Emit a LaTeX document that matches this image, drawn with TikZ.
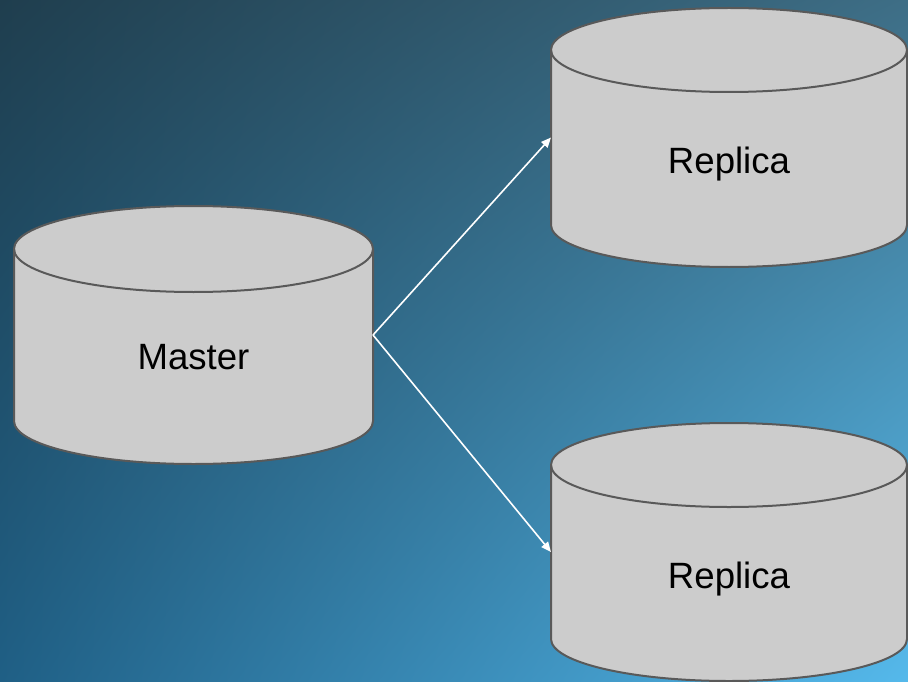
\documentclass[tikz,border=0pt]{standalone}
\usepackage{fontspec}
\setmainfont{Liberation Sans}
\usetikzlibrary{arrows.meta}
\definecolor{canfill}{RGB}{204,204,204}
\definecolor{canline}{RGB}{89,89,89}
% slide background: blend of the four corner colours
\pgfdeclarefunctionalshading{slidebg}{\pgfpoint{0bp}{0bp}}{\pgfpoint{100bp}{100bp}}{}{
  25 sub 50 div exch 25 sub 50 div exch
  1 index -0.090 mul 0 add 1 index mul 2 index 0.211 mul add 0.122 add 3 1 roll
  1 index -0.164 mul -0.130 add 1 index mul 2 index 0.352 mul add 0.373 add 3 1 roll
  1 index -0.181 mul -0.216 add 1 index mul 2 index 0.400 mul add 0.522 add 3 1 roll
  pop pop
}

\begin{document}
\begin{tikzpicture}[x=0.5pt, y=0.5pt,
  can/.style={fill=canfill, draw=canline, line width=1pt},
  rim/.style={draw=canline, line width=1pt},
  dbtext/.style={font=\fontsize{18.3}{22}\selectfont, text=black},
  link/.style={draw=white, line width=0.8pt, -{Triangle[length=5pt,width=4.2pt]}}]
\useasboundingbox (0,0) rectangle (908,681);
\shade [shading=slidebg] (0,0) rectangle (908,681);
% master can
\draw [can] (14,432) -- (14,260) arc (180:360:179.5 and 43) -- (373,432) arc (0:180:179.5 and 43) -- cycle;
\draw [rim] (14,432) arc (180:360:179.5 and 43);
\node [dbtext] (master) at (193.5,324) {Master};
% replica cans
\draw [can] (551,631) -- (551,456) arc (180:360:178 and 42) -- (907,631) arc (0:180:178 and 42) -- cycle;
\draw [rim] (551,631) arc (180:360:178 and 42);
\node [dbtext] (replica1) at (729,517) {Replica};
\draw [can] (551,216) -- (551,42) arc (180:360:178 and 42) -- (907,216) arc (0:180:178 and 42) -- cycle;
\draw [rim] (551,216) arc (180:360:178 and 42);
\node [dbtext] (replica2) at (729,102) {Replica};
% links
\coordinate (master-out) at (373,346);
\coordinate (replica1-in) at (551,543.5);
\coordinate (replica2-in) at (551,129);
\draw [link] (master-out) -- (replica1-in);
\draw [link] (master-out) -- (replica2-in);
\end{tikzpicture}
\end{document}
